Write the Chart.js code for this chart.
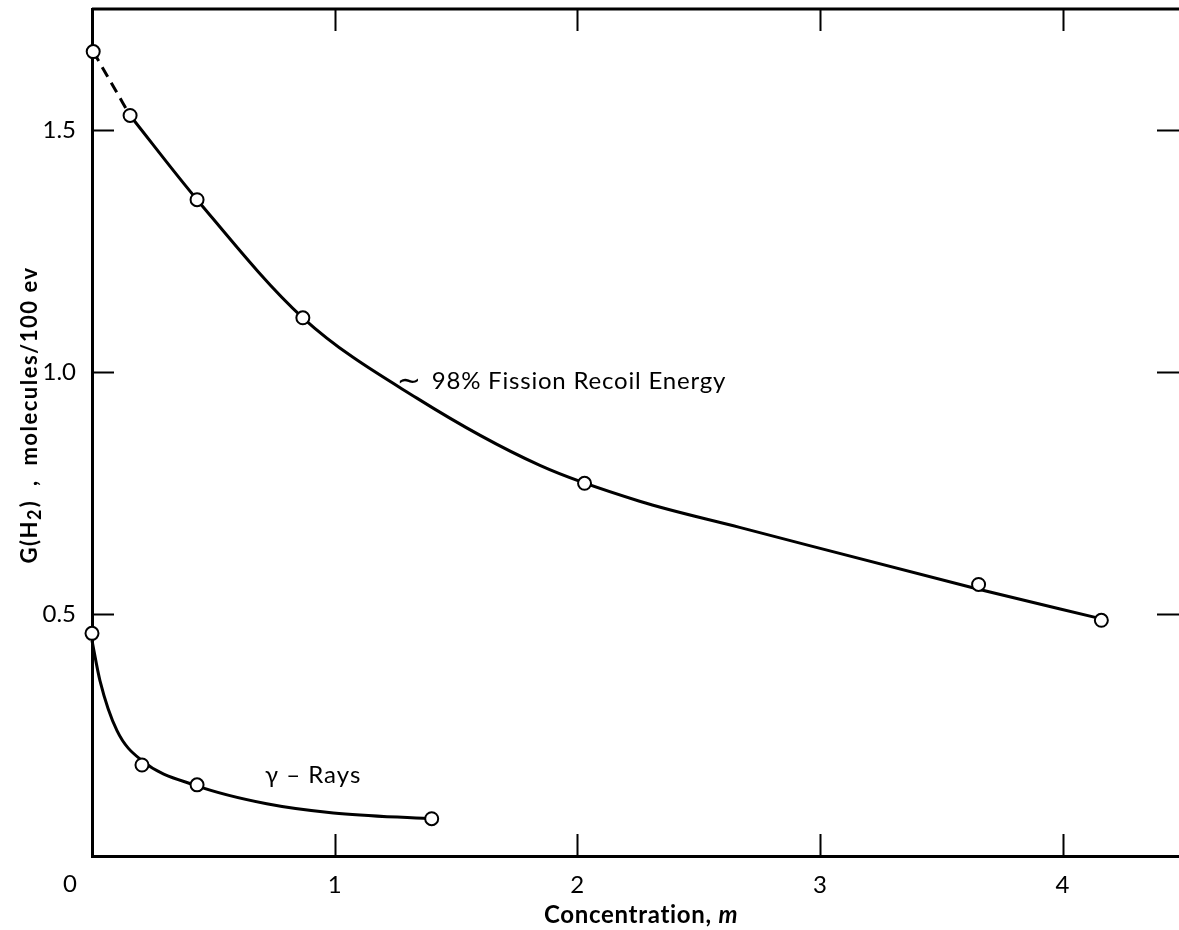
<!DOCTYPE html>
<html>
<head>
<meta charset="utf-8">
<script src="https://cdn.jsdelivr.net/npm/chart.js@4.4.1/dist/chart.umd.min.js"></script>
<style>
    html, body { margin: 0; padding: 0; background: #fff; overflow: hidden; }
    #chart { display: block; }
</style>
</head>
<body>
<canvas id="chart" width="1179" height="930"></canvas>
<script>
/* DATA */

var xTicks = [0, 1, 2, 3, 4];
var yTicks = [0, 0.5, 1.0, 1.5];

// ~98% fission recoil energy, measured points
var fissionX = [0.005, 0.157, 0.433, 0.869, 2.03, 3.654, 4.16];
var fissionY = [1.662, 1.530, 1.356, 1.112, 0.770, 0.561, 0.487];

// fitted curve
var fissionCurveX = [0.157, 0.433, 0.869, 1.339, 1.846, 2.257, 2.669, 3.654, 4.152];
var fissionCurveY = [1.530, 1.356, 1.112, 0.946, 0.807, 0.733, 0.679, 0.551, 0.491];

// dashed extrapolation to the first point
var fissionDashX = [0.005, 0.157];
var fissionDashY = [1.662, 1.530];

// gamma rays, measured points
var gammaX = [0.0, 0.206, 0.433, 1.40];
var gammaY = [0.460, 0.188, 0.147, 0.077];

// gamma fitted curve
var gammaCurveX = [0.0, 0.033, 0.103, 0.206, 0.433, 0.72, 0.995, 1.39];
var gammaCurveY = [0.445, 0.362, 0.259, 0.197, 0.145, 0.108, 0.089, 0.077];

(() => {
    var FONT = 'Lato, "DejaVu Sans", sans-serif';

    var toXY = (xs, ys) => xs.map((x, i) => ({ x: x, y: ys[i] }));

    var pointSet = (xs, ys) => ({
        data: toXY(xs, ys),
        showLine: false,
        pointRadius: 6.5,
        pointBorderWidth: 2,
        pointBackgroundColor: '#fff',
        pointBorderColor: '#000',
        clip: false
    });

    var lineSet = (xs, ys, dash) => ({
        data: toXY(xs, ys),
        showLine: true,
        pointRadius: 0,
        borderColor: '#000',
        borderWidth: 3,
        borderDash: dash || [],
        cubicInterpolationMode: 'monotone',
        clip: false
    });

    var spaced = (ctx, text, x, y, spacing) => {
        ctx.letterSpacing = spacing + 'px';
        ctx.fillText(text, x, y);
        ctx.letterSpacing = '0px';
    };

    /* plugin: inner ticks, top border, labels, titles */
    var decorations = {
        id: 'decorations',
        afterDraw: (chart) => {
            var ctx = chart.ctx;
            var xs = chart.scales.x;
            var ys = chart.scales.y;
            var area = chart.chartArea;

            ctx.save();
            ctx.strokeStyle = '#000';

            // top border
            ctx.lineWidth = 3;
            ctx.beginPath();
            ctx.moveTo(area.left, area.top);
            ctx.lineTo(area.right, area.top);
            ctx.stroke();

            // inward ticks
            ctx.lineWidth = 2;
            xTicks.filter(v => v > 0).forEach(v => {
                var px = Math.round(xs.getPixelForValue(v)) + 0.5;
                ctx.beginPath();
                ctx.moveTo(px, area.bottom);
                ctx.lineTo(px, area.bottom - 22);
                ctx.moveTo(px, area.top);
                ctx.lineTo(px, area.top + 22);
                ctx.stroke();
            });
            yTicks.filter(v => v > 0).forEach(v => {
                var py = Math.round(ys.getPixelForValue(v)) + 0.5;
                ctx.beginPath();
                ctx.moveTo(area.left, py);
                ctx.lineTo(area.left + 22, py);
                ctx.moveTo(area.right, py);
                ctx.lineTo(area.right - 22, py);
                ctx.stroke();
            });

            ctx.fillStyle = '#000';

            // origin label sits left of the axis
            ctx.font = '24px ' + FONT;
            ctx.textAlign = 'center';
            ctx.textBaseline = 'middle';
            ctx.fillText('0', xs.getPixelForValue(0) - 22, 884);

            // curve labels
            ctx.textAlign = 'left';
            ctx.font = '29px ' + FONT;
            ctx.fillText('\u223C', xs.getPixelForValue(1.256), ys.getPixelForValue(0.983));
            ctx.font = '24px ' + FONT;
            spaced(ctx, '98% Fission Recoil Energy', xs.getPixelForValue(1.40), ys.getPixelForValue(0.981), 0.8);
            spaced(ctx, '\u03B3 \u2013 Rays', xs.getPixelForValue(0.713), ys.getPixelForValue(0.166), 1);

            // x axis title
            ctx.font = 'bold 24px ' + FONT;
            ctx.letterSpacing = '0.7px';
            var part1 = 'Concentration, ';
            var w1 = ctx.measureText(part1).width;
            ctx.font = 'italic bold 24px ' + FONT;
            var w2 = ctx.measureText('m').width;
            var startX = 641 - (w1 + w2) / 2;
            ctx.font = 'bold 24px ' + FONT;
            ctx.fillText(part1, startX, 915);
            ctx.font = 'italic bold 24px ' + FONT;
            ctx.fillText('m', startX + w1, 915);
            ctx.letterSpacing = '0px';

            // y axis title, rotated
            ctx.translate(30, 415);
            ctx.rotate(-Math.PI / 2);
            ctx.letterSpacing = '1.5px';
            ctx.font = 'bold 22px ' + FONT;
            var a = 'G(H';
            var c = ')  ,  molecules/100 ev';
            var wa = ctx.measureText(a).width;
            var wc = ctx.measureText(c).width;
            ctx.font = 'bold 18px ' + FONT;
            var wb = ctx.measureText('2').width + 1;
            var x0 = -(wa + wb + wc) / 2;
            ctx.font = 'bold 22px ' + FONT;
            ctx.fillText(a, x0, 0);
            ctx.font = 'bold 18px ' + FONT;
            ctx.fillText('2', x0 + wa, 5);
            ctx.font = 'bold 22px ' + FONT;
            ctx.fillText(c, x0 + wa + wb, 0);
            ctx.letterSpacing = '0px';

            ctx.restore();
        }
    };

    var config = {
        type: 'scatter',
        data: {
            datasets: [
                pointSet(fissionX, fissionY),
                pointSet(gammaX, gammaY),
                lineSet(fissionCurveX, fissionCurveY),
                lineSet(fissionDashX, fissionDashY, [11, 7]),
                lineSet(gammaCurveX, gammaCurveY)
            ]
        },
        options: {
            responsive: false,
            animation: false,
            layout: { autoPadding: false, padding: { top: 9, right: 0, left: 0, bottom: 0 } },
            scales: {
                x: {
                    type: 'linear',
                    min: 0,
                    max: 4.48,
                    afterBuildTicks: (s) => { s.ticks = xTicks.map(v => ({ value: v })); },
                    afterFit: (s) => { s.height = 74; s.paddingLeft = 0; s.paddingRight = 0; },
                    grid: { display: false, drawTicks: false },
                    border: { display: true, color: '#000', width: 3 },
                    ticks: {
                        color: '#000',
                        padding: 15,
                        maxRotation: 0,
                        font: { family: FONT, size: 24 },
                        callback: (v) => v === 0 ? '' : String(v)
                    }
                },
                y: {
                    type: 'linear',
                    min: 0,
                    max: 1.75,
                    afterBuildTicks: (s) => { s.ticks = yTicks.map(v => ({ value: v })); },
                    afterFit: (s) => { s.width = 92; s.paddingTop = 0; s.paddingBottom = 0; },
                    grid: { display: false, drawTicks: false },
                    border: { display: true, color: '#000', width: 3 },
                    ticks: {
                        color: '#000',
                        padding: 16,
                        font: { family: FONT, size: 24 },
                        callback: (v) => v === 0 ? '' : v.toFixed(1)
                    }
                }
            },
            plugins: {
                legend: { display: false },
                title: { display: false },
                tooltip: { enabled: false }
            }
        },
        plugins: [decorations]
    };

    new Chart(document.getElementById('chart'), config);
})();
</script>
</body>
</html>
